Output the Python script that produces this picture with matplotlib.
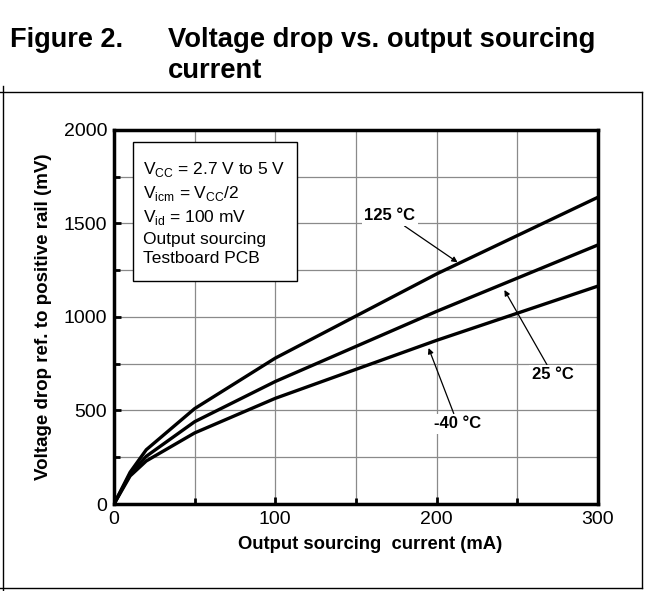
import numpy as np
import matplotlib
matplotlib.use("Agg")
import matplotlib.pyplot as plt
from matplotlib.lines import Line2D
from matplotlib.patches import Rectangle
from matplotlib.ticker import MultipleLocator

plt.rcParams['font.family'] = ['Liberation Sans', 'DejaVu Sans']
plt.rcParams['mathtext.fontset'] = 'custom'
plt.rcParams['mathtext.rm'] = 'Liberation Sans'

# ---- data ----
current_ma = [0, 10, 20, 50, 100, 200, 300]
drop_125c = [0, 170, 290, 510, 780, 1230, 1640]
drop_25c = [0, 160, 255, 440, 655, 1030, 1385]
drop_m40c = [0, 150, 230, 380, 565, 875, 1165]

fig = plt.figure(figsize=(6.54, 5.91), dpi=100)
ax = fig.add_axes([0.1743, 0.1472, 0.740, 0.633])

for ys in (drop_125c, drop_25c, drop_m40c):
    ax.plot(current_ma, ys, color='black', lw=2.4, solid_capstyle='butt', zorder=3)

ax.set_xlim(0, 300)
ax.set_ylim(0, 2000)
ax.xaxis.set_major_locator(MultipleLocator(100))
ax.xaxis.set_minor_locator(MultipleLocator(50))
ax.yaxis.set_major_locator(MultipleLocator(500))
ax.yaxis.set_minor_locator(MultipleLocator(250))
ax.grid(which='both', color='#8a8a8a', lw=0.9, zorder=0)
ax.tick_params(which='both', direction='in', width=2, labelsize=14, pad=5)
ax.tick_params(which='major', length=5)
ax.tick_params(which='minor', length=4)
for s in ax.spines.values():
    s.set_linewidth(2.5)

ax.set_xlabel('Output sourcing  current (mA)', fontsize=13.3, fontweight='bold', labelpad=7)
ax.xaxis.set_label_coords(0.53, -0.085)
ax.set_ylabel('Voltage drop ref. to positive rail (mV)', fontsize=13.5, fontweight='bold', labelpad=8)

# condition box
ax.add_patch(Rectangle((12, 1193), 101.5, 743, fc='white', ec='black', lw=1, zorder=5))
box_txt = ('V$_{\\rm CC}$ = 2.7 V to 5 V\n'
           'V$_{\\rm icm}$ = V$_{\\rm CC}$/2\n'
           'V$_{\\rm id}$ = 100 mV\n'
           'Output sourcing\n'
           'Testboard PCB')
ax.text(18, 1838, box_txt, fontsize=12.5, va='top', ha='left',
        linespacing=1.36, zorder=6)

# temperature annotations
ann_kw = dict(fontsize=12, fontweight='bold', ha='center', va='center', zorder=6,
              bbox=dict(boxstyle='square,pad=0.15', fc='white', ec='none'),
              arrowprops=dict(arrowstyle='-|>', color='black', lw=0.9,
                              mutation_scale=8, shrinkA=0, shrinkB=0))
ax.annotate('125 \u00b0C', xy=(213, 1292), xytext=(171, 1540), **ann_kw)
ax.annotate('25 \u00b0C', xy=(242, 1144), xytext=(272, 690), **ann_kw)
ax.annotate('-40 \u00b0C', xy=(195, 834), xytext=(213, 430), **ann_kw)

# title
fig.text(10 / 654, 1 - 40 / 591, 'Figure 2.', fontsize=19.5, fontweight='bold', va='center')
fig.text(168 / 654, 1 - 40 / 591, 'Voltage drop vs. output sourcing', fontsize=19.7,
         fontweight='bold', va='center')
fig.text(168 / 654, 1 - 71 / 591, 'current', fontsize=19.7, fontweight='bold', va='center')

# frame around the figure area
yt = 1 - 92 / 591
yb = 1 - 588 / 591
xl = 3 / 654
xr = 642 / 654
for xs, ys in (([0, xr], [yt, yt]), ([0, xr], [yb, yb]),
               ([xl, xl], [yt + 0.01, 0]), ([xr, xr], [yt, yb])):
    fig.add_artist(Line2D(xs, ys, color='black', lw=1, transform=fig.transFigure))

fig.savefig('out.png', dpi=100)
